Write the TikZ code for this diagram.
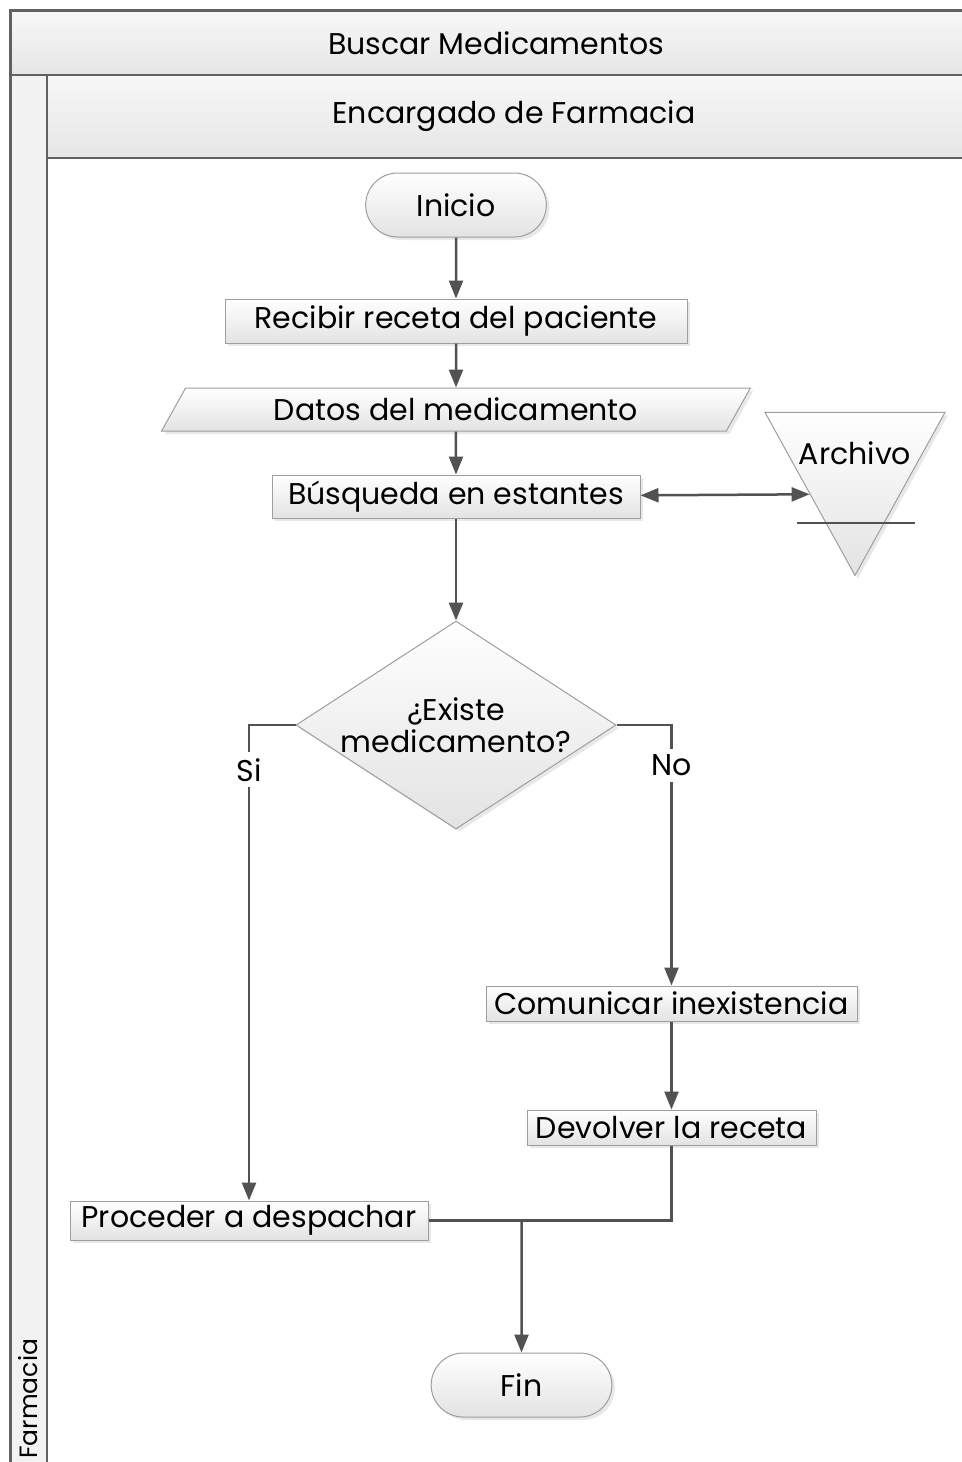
\documentclass[tikz,border=0pt]{standalone}
\usepackage{fontspec}
\setmainfont{Poppins}
\usepackage{tikz}
\usetikzlibrary{arrows.meta, positioning, shapes.geometric, shapes.misc, shadows}
\colorlet{colorLine}{black!68}
\colorlet{colorBorder}{black!38}
\colorlet{colorFrame}{black!62}
\tikzset{shapeFill/.style={draw=colorBorder, line width=0.5pt, top color=white, bottom color=black!11,
  drop shadow={opacity=0.18, shadow xshift=1.5pt, shadow yshift=-1.5pt}}}

\begin{document}
\begin{tikzpicture}[x=0.5pt, y=-0.5pt, >={Triangle[length=9pt, width=7pt]},
  font=\fontsize{15}{16}\selectfont, node distance=22pt,
  band/.style={draw=colorFrame, line width=1pt, top color=black!3, bottom color=black!10},
  process/.style={shapeFill, rectangle, inner sep=0pt},
  terminal/.style={shapeFill, rounded rectangle, minimum width=97pt, minimum height=32pt},
  data/.style={shapeFill, trapezium, trapezium left angle=55, trapezium right angle=125,
    trapezium stretches=true, minimum width=295pt, minimum height=21.5pt, inner sep=0pt},
  decision/.style={shapeFill, diamond, shape aspect=1.6, minimum width=160pt, minimum height=104pt,
    inner sep=-8pt, align=center},
  store/.style={shapeFill, isosceles triangle, shape border rotate=-90, isosceles triangle stretches,
    minimum width=90pt, minimum height=81.5pt, inner sep=0pt},
  flow/.style={draw=colorLine, line width=1.25pt},
  answer/.style={fill=white, inner sep=3pt}]
\useasboundingbox (0,0) rectangle (962,1462);
% carriles
\draw[colorFrame, line width=1pt, fill=white] (10,10) rectangle (980,1480);
\node[band, anchor=north west, minimum width=485pt, minimum height=32pt] (titulo) at (10,10) {Buscar Medicamentos};
\node[band, top color=black!5, bottom color=black!5, anchor=north west, minimum width=18pt, minimum height=703pt] (pool) at (10,74) {};
\node[band, anchor=north west, minimum width=467pt, minimum height=41.5pt] (carril) at (46,74) {Encargado de Farmacia};
\node[rotate=90, anchor=west, inner sep=0pt, font=\fontsize{12.5}{14}\selectfont] (farmacia) at (28,1459) {Farmacia};
% flujo principal
\node[terminal] (inicio) at (456,205) {Inicio};
\node[process, minimum width=231pt, minimum height=22pt, below=30.5pt of inicio] (recibir) {Recibir receta del paciente};
\node[data, below=22pt of recibir] (datos) {Datos del medicamento};
\node[process, minimum width=184pt, minimum height=21.5pt, below=21.5pt of datos] (busqueda) {Búsqueda en estantes};
\node[decision, below=51pt of busqueda] (existe) {¿Existe\\medicamento?};
\node[store] (archivo) at (855,465.5) {};
\node[yshift=-20.5pt] (archivotxt) at (archivo.north) {Archivo};
\draw[colorLine, line width=1pt] ([shift={(-58,111)}]archivo.north) -- ([shift={(60,111)}]archivo.north);
% ramas
\node[process, minimum width=185.5pt, minimum height=17.5pt] (comunicar) at (671.5,1003.5) {Comunicar inexistencia};
\node[process, minimum width=144.5pt, minimum height=17.5pt, below=44pt of comunicar] (devolver) {Devolver la receta};
\node[process, minimum width=179pt, minimum height=19.5pt] (proceder) at (249,1220.5) {Proceder a despachar};
\node[terminal] (fin) at (521.5,1385) {Fin};
\coordinate (union) at (fin.north |- proceder.east);

\draw[flow, ->] (inicio) -- (recibir);
\draw[flow, ->] (recibir) -- (datos);
\draw[flow, ->] (datos) -- (busqueda);
\draw[flow, <->] (busqueda) -- (archivo.right side);
\draw[flow, ->] (busqueda) -- (existe);
\draw[flow, ->] (existe.west) -| node[answer, pos=0.547] {Si} (proceder.north);
\draw[flow, ->] (existe.east) -| node[answer, pos=0.578] {No} (comunicar.north);
\draw[flow, ->] (comunicar) -- (devolver);
\draw[flow] (devolver.south) |- (proceder.east);
\draw[flow, ->] (union) -- (fin);
\end{tikzpicture}
\end{document}
